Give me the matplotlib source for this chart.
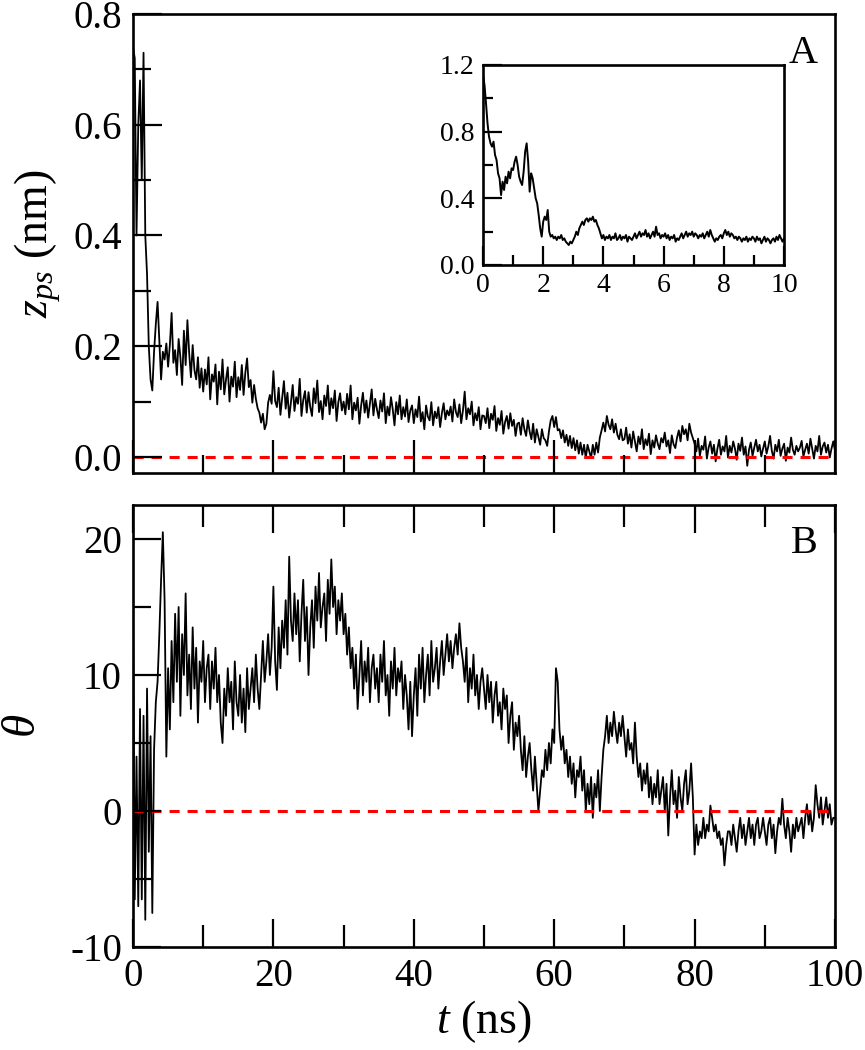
import numpy as np
import matplotlib
matplotlib.use("Agg")
import matplotlib.pyplot as plt
import matplotlib.ticker as tck

SERIF = "Liberation Serif"
plt.rcParams["font.family"] = SERIF
plt.rcParams["mathtext.fontset"] = "custom"
plt.rcParams["mathtext.rm"] = SERIF
plt.rcParams["mathtext.it"] = SERIF + ":italic"
plt.rcParams["axes.unicode_minus"] = False

MAIN_STEP = 0.25   # ns between samples, panels A and B
INSET_STEP = 0.05  # ns between samples, inset

# z_ps in units of 0.001 nm, panel A (0 - 100 ns)
ZPS_MILLI = [
    740, 720, 400, 600, 680, 500, 730, 400, 330, 200, 140, 120, 190, 240, 280, 210, 140, 190, 176, 205,
    163, 202, 260, 170, 193, 148, 213, 180, 130, 228, 166, 247, 188, 144, 202, 157, 140, 180, 125, 160,
    118, 158, 131, 180, 104, 149, 136, 167, 95, 154, 122, 176, 113, 140, 162, 100, 145, 127, 172, 108,
    144, 121, 166, 112, 152, 178, 126, 139, 98, 130, 105, 88, 80, 62, 78, 50, 60, 98, 112, 96,
    155, 101, 90, 125, 76, 107, 137, 87, 116, 71, 99, 130, 83, 108, 96, 141, 74, 103, 119, 80,
    117, 90, 74, 124, 97, 138, 81, 101, 68, 111, 92, 129, 77, 106, 88, 120, 65, 99, 115, 84,
    100, 77, 114, 86, 129, 68, 98, 84, 107, 60, 93, 116, 80, 102, 71, 96, 122, 75, 105, 86,
    70, 102, 82, 115, 61, 91, 75, 108, 86, 57, 99, 77, 111, 68, 90, 73, 104, 63, 84, 93,
    61, 86, 72, 109, 64, 81, 50, 93, 73, 66, 99, 57, 82, 70, 90, 54, 79, 97, 68, 84,
    75, 91, 64, 104, 81, 72, 95, 61, 84, 118, 68, 88, 77, 100, 57, 79, 66, 90, 50, 75,
    74, 61, 88, 52, 78, 67, 92, 47, 70, 58, 83, 42, 63, 74, 51, 79, 56, 67, 38, 60,
    62, 40, 70, 50, 38, 66, 46, 32, 60, 26, 50, 36, 22, 50, 34, 30, 20, 46, 66, 74,
    54, 72, 48, 50, 34, 48, 26, 40, 20, 38, 16, 34, 12, 30, 6, 26, 4, 22, -2, 22,
    10, -2, 22, 4, 26, 8, 35, 48, 62, 46, 74, 58, 50, 68, 44, 60, 40, 32, 50, 30,
    32, 53, 24, 41, 17, 46, 28, 10, 37, 23, 50, 14, 32, 21, 42, 5, 30, 17, 39, 24,
    14, 34, 26, 44, 19, 30, 7, 39, 23, 16, 35, 48, 28, 56, 41, 50, 30, 60, 44, 34,
    24, 10, 33, 2, 20, 13, 37, -3, 17, 28, 6, 22, -8, 15, 31, 4, 19, 10, 38, -1,
    20, 8, 28, 15, -5, 24, 11, 35, 4, 19, -16, 13, 26, 2, 17, 31, 10, 22, 1, 15,
    28, 6, 19, 38, 11, -3, 22, 10, 31, 2, 15, 24, -7, 17, 8, 35, 13, 4, 20, 10,
    17, 29, 1, 13, 24, 6, 33, 15, -3, 20, 10, 38, 4, 19, 26, 8, 22, -1, 15, 28,
    12,
]

# inset, in units of 0.01 nm (0 - 10 ns)
ZPS_INSET_CENTI = [
    114, 108, 97, 85, 77, 73, 71, 74, 66, 63, 55, 52, 42, 50, 45, 53, 49, 56, 52, 58,
    57, 62, 65, 60, 53, 50, 48, 56, 68, 73, 62, 44, 55, 52, 46, 40, 37, 30, 22, 17,
    26, 29, 27, 33, 20, 17, 18, 16, 17, 15, 17, 16, 18, 15, 16, 14, 13, 12, 14, 13,
    15, 17, 20, 18, 22, 24, 26, 24, 27, 28, 26, 28, 27, 29, 26, 27, 24, 22, 19, 16,
    18, 15, 17, 16, 18, 15, 17, 16, 19, 15, 16, 18, 15, 17, 16, 18, 14, 17, 16, 15,
    17, 19, 16, 18, 20, 17, 19, 18, 21, 17, 19, 16, 18, 20, 17, 23, 18, 19, 16, 18,
    17, 19, 16, 18, 15, 17, 16, 18, 14, 16, 15, 17, 19, 16, 18, 20, 17, 19, 18, 20,
    17, 19, 18, 16, 18, 17, 19, 16, 18, 20, 17, 21, 18, 16, 14, 16, 15, 17, 18, 16,
    19, 21, 18, 20, 17, 19, 18, 16, 17, 15, 17, 16, 14, 16, 15, 17, 14, 16, 15, 17,
    16, 14, 17, 15, 16, 13, 15, 17, 14, 16, 15, 13, 15, 16, 14, 17, 15, 18, 16, 14,
    16,
]

# theta, panel B (0 - 100 ns)
THETA = [
    15.0, -6.5, 4.0, -7.0, 7.5, -6.5, 7.0, -8.0, 9.0, -3.0, 5.5, -7.5, 4.5, 8.0, 9.5, 13.0, 17.0, 20.5, 15.5, 4.0,
    10.5, 6.0, 12.5, 8.0, 14.5, 9.5, 15.0, 7.0, 13.0, 10.0, 16.0, 8.5, 11.5, 7.5, 13.5, 9.0, 12.0, 6.5, 11.0, 9.5,
    12.5, 8.0, 10.5, 11.5, 7.5, 11.0, 9.0, 12.0, 8.0, 10.0, 6.5, 5.0, 9.0, 7.0, 10.5, 8.0, 9.5, 6.0, 11.0, 8.0,
    7.0, 10.0, 6.5, 9.0, 5.8, 10.5, 7.5, 9.0, 10.5, 8.0, 11.5, 9.0, 7.5, 10.0, 12.5, 9.5, 11.0, 13.0, 10.0, 12.0,
    16.5, 11.0, 8.9, 13.5, 10.5, 14.0, 12.0, 15.5, 11.5, 18.7, 14.0, 12.5, 16.0, 13.0, 15.5, 11.0, 14.5, 17.0, 12.5, 15.0,
    10.0, 13.5, 15.5, 12.0, 16.5, 14.0, 17.5, 13.5, 15.0, 16.0, 12.5, 17.0, 14.5, 18.5, 15.0, 16.5, 13.0, 15.5, 14.0, 16.0,
    13.0, 14.5, 11.5, 13.5, 10.5, 12.0, 9.0, 11.5, 7.5, 10.0, 12.5, 8.5, 11.0, 9.5, 12.0, 8.0, 10.5, 11.5, 9.0, 10.5,
    8.0, 11.5, 9.5, 12.5, 8.5, 10.0, 7.0, 11.0, 9.0, 12.0, 8.5, 10.5, 9.5, 11.0, 7.5, 10.0, 8.5, 6.0, 9.5, 5.5,
    8.5, 10.5, 7.0, 11.5, 9.0, 12.0, 8.0, 10.0, 11.5, 8.5, 12.5, 9.5, 10.5, 12.0, 9.0, 11.0, 12.5, 10.0, 11.5, 13.0,
    11.0, 12.5, 10.5, 12.0, 13.0, 11.5, 13.8, 12.0, 11.0, 9.5, 12.0, 8.0, 10.5, 9.0, 11.5, 8.5, 10.0, 7.5, 9.5, 10.5,
    9.0, 7.5, 10.0, 8.0, 9.5, 6.5, 8.5, 9.5, 7.0, 8.0, 6.0, 9.0, 7.5, 8.5, 5.0, 7.0, 8.0, 4.5, 6.5, 5.5,
    7.0, 4.5, 3.0, 5.5, 2.5, 4.0, 5.0, 3.0, 1.5, 4.0, 2.0, 0.0, 1.5, 3.0, 2.5, 4.5, 3.0, 5.0, 3.5, 6.0,
    5.0, 10.5, 9.5, 6.0, 4.5, 5.5, 3.5, 4.5, 2.5, 4.0, 2.0, 3.5, 1.0, 3.0, 2.5, 4.0, 1.5, 3.0, 0.0, 2.0,
    0.5, 2.5, -0.5, 2.0, 1.0, 3.0, 0.0, 2.5, 4.5, 5.5, 7.0, 5.0, 6.5, 5.5, 7.3, 6.0, 5.0, 6.5, 5.5, 7.0,
    5.5, 4.0, 6.0, 4.5, 5.0, 3.5, 6.5, 4.0, 2.5, 3.5, 1.5, 3.0, 2.0, 3.5, 1.0, 2.5, 0.5, 2.0, 1.0, 3.0,
    0.5, 1.5, 2.5, 0.0, 2.0, -1.8, 1.0, 3.0, 0.5, 1.5, -0.5, 2.5, 1.0, 0.0, 2.0, 3.0, 0.5, 1.5, 3.5, 1.0,
    -3.2, -1.0, -2.5, -1.5, -2.0, -0.5, -2.0, -1.0, -1.5, 0.4, -0.5, -1.5, -1.0, -2.0, -1.5, -2.5, -2.0, -4.0, -2.5, -1.5,
    -1.5, -2.5, -1.0, -2.0, -3.0, -1.5, -0.5, -2.0, -1.0, -2.5, -1.5, -0.5, -2.0, -1.0, -2.5, -1.0, -0.5, -2.0, -1.5, -0.5,
    -1.5, -2.5, -1.0, -0.5, -2.0, -1.0, -3.1, -1.5, -0.5, -1.0, 0.9, -1.0, -2.0, -0.5, -1.5, -3.0, -1.0, -2.0, -0.5, -1.5,
    -1.0, -0.5, -2.0, -0.5, 0.5, -1.0, 0.0, -1.5, -0.5, 1.9, 0.5, -0.5, 1.0, -1.0, 0.0, 1.0, -0.5, 0.5, -1.0, -0.5,
    -0.5,
]

t_main = np.arange(len(ZPS_MILLI)) * MAIN_STEP
t_theta = np.arange(len(THETA)) * MAIN_STEP
t_inset = np.arange(len(ZPS_INSET_CENTI)) * INSET_STEP
zps = np.array(ZPS_MILLI) / 1000.0
zps_inset = np.array(ZPS_INSET_CENTI) / 100.0
theta = np.array(THETA)

W, H = 865, 1050
fig = plt.figure(figsize=(W / 100, H / 100), dpi=100)


def box(x0, y0, x1, y1):
    return [x0 / W, 1 - y1 / H, (x1 - x0) / W, (y1 - y0) / H]


def frame(ax, major, minor, labelsize, pad, top=False):
    for s in ax.spines.values():
        s.set_linewidth(1.9)
    ax.set_axisbelow(False)
    ax.tick_params(which="both", direction="in", width=1.6, top=top, right=False,
                   labelsize=labelsize, pad=pad)
    ax.tick_params(which="major", length=major)
    ax.tick_params(which="minor", length=minor)


ax_a = fig.add_axes(box(133, 14, 835, 473))
ax_b = fig.add_axes(box(133, 505, 835, 947))
ax_in = fig.add_axes(box(483, 65, 784, 265))

dash = (0, (3.3, 2.6))

# Panel A
ax_a.plot(t_main, zps, color="black", linewidth=1.3, zorder=2)
ax_a.plot([0, 100], [0, 0], color="red", linewidth=2.2, linestyle=dash, zorder=2.2)
ax_a.set_xlim(0, 100)
ax_a.set_ylim(-0.029, 0.8)
frame(ax_a, 21, 13, 28, 8)
ax_a.tick_params(axis="x", which="major", length=24)
ax_a.xaxis.set_major_locator(tck.MultipleLocator(20))
ax_a.xaxis.set_minor_locator(tck.MultipleLocator(10))
ax_a.yaxis.set_major_locator(tck.MultipleLocator(0.2))
ax_a.yaxis.set_minor_locator(tck.MultipleLocator(0.1))
ax_a.yaxis.set_major_formatter(tck.FormatStrFormatter("%.1f"))
ax_a.set_xticklabels([])
ax_a.set_ylabel(r"$z_{ps}$ (nm)", fontsize=33)
ax_a.yaxis.set_label_coords(-0.1, 0.5)
ax_a.text(0.975, 0.955, "A", transform=ax_a.transAxes, ha="right", va="top", fontsize=29)

# Inset
ax_in.plot(t_inset, zps_inset, color="black", linewidth=1.4)
ax_in.set_xlim(0, 10)
ax_in.set_ylim(0, 1.2)
frame(ax_in, 14, 7, 20, 6)
ax_in.xaxis.set_major_locator(tck.MultipleLocator(2))
ax_in.xaxis.set_minor_locator(tck.MultipleLocator(1))
ax_in.yaxis.set_major_locator(tck.MultipleLocator(0.4))
ax_in.yaxis.set_minor_locator(tck.MultipleLocator(0.2))
ax_in.yaxis.set_major_formatter(tck.FormatStrFormatter("%.1f"))

# Panel B
ax_b.plot(t_theta, theta, color="black", linewidth=1.3, zorder=2)
ax_b.plot([0, 100], [0, 0], color="red", linewidth=2.2, linestyle=dash, zorder=2.2)
ax_b.set_xlim(0, 100)
ax_b.set_ylim(-10, 22.5)
frame(ax_b, 20, 13, 28, 8, top=True)
ax_b.tick_params(axis="x", which="major", length=20)
ax_b.tick_params(axis="x", which="minor", length=16)
ax_b.xaxis.set_major_locator(tck.MultipleLocator(20))
ax_b.xaxis.set_minor_locator(tck.MultipleLocator(10))
ax_b.yaxis.set_major_locator(tck.MultipleLocator(10))
ax_b.yaxis.set_minor_locator(tck.MultipleLocator(5))
ax_b.set_ylabel(r"$\theta$", fontsize=34)
ax_b.yaxis.set_label_coords(-0.125, 0.5)
ax_b.set_xlabel(r"$t$ (ns)", fontsize=33, labelpad=2)
ax_b.text(0.975, 0.955, "B", transform=ax_b.transAxes, ha="right", va="top", fontsize=29)

plt.savefig("out.png", dpi=100)
plt.close()
